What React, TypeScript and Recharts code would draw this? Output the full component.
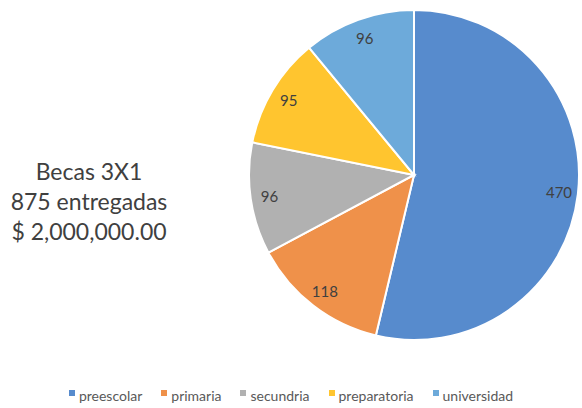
import { PieChart, Pie, Cell, Legend } from 'recharts';

const niveles = ['preescolar', 'primaria', 'secundria', 'preparatoria', 'universidad'];
const becas = [470, 118, 96, 95, 96];
const colores = ['#578BCD', '#EF914A', '#B1B1B1', '#FFC52F', '#6DAADA'];
const titulo = ['Becas 3X1', '875 entregadas', '$ 2,000,000.00'];

const data = niveles.map((name, i) => ({ name, value: becas[i] }));

const FONT = 'Lato, "Open Sans", sans-serif';
const RADIAN = Math.PI / 180;

function renderLabel(props: any) {
  const { cx, cy, midAngle, outerRadius, value } = props;
  const r = outerRadius * 0.885;
  const x = cx + r * Math.cos(-midAngle * RADIAN);
  const y = cy + r * Math.sin(-midAngle * RADIAN);
  return (
    <text
      x={x}
      y={y}
      textAnchor="middle"
      dominantBaseline="central"
      fontSize={15}
      fill="#404040"
      fontFamily={FONT}
    >
      {value}
    </text>
  );
}

function renderLegend() {
  return (
    <div
      style={{
        display: 'flex',
        justifyContent: 'center',
        gap: 19,
        fontFamily: FONT,
        fontSize: 14,
        color: '#595959',
      }}
    >
      {niveles.map((n, i) => (
        <span key={n} style={{ display: 'flex', alignItems: 'center' }}>
          <span
            style={{
              width: 6,
              height: 6,
              background: colores[i],
              marginRight: 4,
              marginTop: -5,
            }}
          />
          {n}
        </span>
      ))}
    </div>
  );
}

export default function App() {
  return (
    <div
      style={{
        position: 'absolute',
        left: 0,
        top: 0,
        width: 582,
        height: 408,
        background: '#fff',
      }}
    >
      <div
        style={{
          position: 'absolute',
          left: 0,
          top: 156,
          width: 178,
          textAlign: 'center',
          fontFamily: FONT,
          fontSize: 23,
          lineHeight: '30px',
          color: '#404040',
        }}
      >
        {titulo.map((t) => (
          <div key={t}>{t}</div>
        ))}
      </div>
      <PieChart
        width={582}
        height={408}
        margin={{ top: 0, right: 0, bottom: 0, left: 0 }}
        style={{ position: 'absolute', left: 0, top: 0 }}
      >
        <Pie
          data={data}
          dataKey="value"
          nameKey="name"
          cx={414}
          cy={175}
          outerRadius={165}
          startAngle={90}
          endAngle={-270}
          stroke="#fff"
          strokeWidth={2}
          label={renderLabel}
          labelLine={false}
          isAnimationActive={false}
        >
          {data.map((d, i) => (
            <Cell key={d.name} fill={colores[i]} />
          ))}
        </Pie>
        <Legend
          verticalAlign="bottom"
          content={renderLegend}
          wrapperStyle={{ bottom: 4 }}
        />
      </PieChart>
    </div>
  );
}
